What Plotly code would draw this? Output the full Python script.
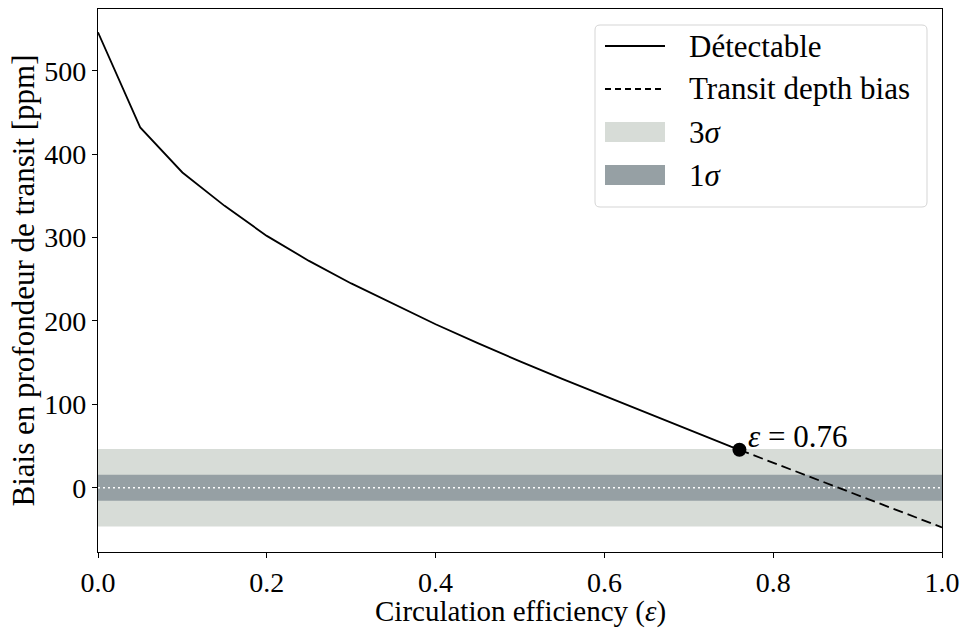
import plotly.graph_objects as go

# ---------------- Data ----------------
eps_solid = [0.0, 0.05, 0.10, 0.15, 0.20, 0.25, 0.30, 0.35, 0.40, 0.45, 0.50, 0.55, 0.60, 0.65, 0.70, 0.75, 0.76]
bias_solid = [546, 432, 378, 338, 302, 272, 245, 220, 196, 173.5, 151.5, 130.5, 110, 89.5, 69, 49.3, 45.5]
eps_dashed = [0.76, 0.80, 0.85, 0.90, 0.95, 1.00]
bias_dashed = [45.5, 30.0, 10.6, -8.8, -28.1, -47.5]
eps_detect = [0.76]
bias_detect = [45.5]
detect_label = "<i>ε</i> = 0.76"
sigma_1 = 15.5
sigma_3 = 46.5
x_range = [0.0, 1.0]
y_range = [-77, 574]
x_ticks = [0.0, 0.2, 0.4, 0.6, 0.8, 1.0]
y_ticks = [0, 100, 200, 300, 400, 500]
x_title = "Circulation efficiency (<i>ε</i>)"
y_title = "Biais en profondeur de transit [ppm]"
legend_labels = ["Détectable", "Transit depth bias", "3<i>σ</i>", "1<i>σ</i>"]

# ---------------- Styling ----------------
FONT = "Liberation Serif"
FS = 31
FT = 28
FX = 29
C3 = "#d7dcd7"
C1 = "#96a0a4"
W, H = 964, 630
ML, MR, MT, MB = 98, 22, 9, 78
PW, PH = W - ML - MR, H - MT - MB


def px(xp):
    return (xp - ML) / PW


def py(yp):
    return (H - MB - yp) / PH


fig = go.Figure()

# 3 sigma band
fig.add_trace(go.Scatter(
    x=[x_range[0], x_range[1], x_range[1], x_range[0], x_range[0]],
    y=[-sigma_3, -sigma_3, sigma_3, sigma_3, -sigma_3],
    fill="toself", fillcolor=C3, line=dict(width=0, color=C3),
    mode="lines", name=legend_labels[2], hoverinfo="skip"))
# 1 sigma band
fig.add_trace(go.Scatter(
    x=[x_range[0], x_range[1], x_range[1], x_range[0], x_range[0]],
    y=[-sigma_1, -sigma_1, sigma_1, sigma_1, -sigma_1],
    fill="toself", fillcolor=C1, line=dict(width=0, color=C1),
    mode="lines", name=legend_labels[3], hoverinfo="skip"))
# zero line (white dotted)
fig.add_trace(go.Scatter(
    x=x_range, y=[0, 0], mode="lines",
    line=dict(color="white", width=1.6, dash="2px,3px"),
    hoverinfo="skip"))
# dashed extension
fig.add_trace(go.Scatter(
    x=eps_dashed, y=bias_dashed, mode="lines",
    line=dict(color="black", width=1.8, dash="10px,5px"),
    name=legend_labels[1]))
# solid
fig.add_trace(go.Scatter(
    x=eps_solid, y=bias_solid, mode="lines",
    line=dict(color="black", width=1.8),
    name=legend_labels[0]))
# detection marker
fig.add_trace(go.Scatter(
    x=eps_detect, y=bias_detect, mode="markers",
    marker=dict(color="black", size=14)))

fig.add_annotation(
    x=eps_detect[0], y=bias_detect[0], xref="x", yref="y",
    text=detect_label, showarrow=False,
    xanchor="left", yanchor="middle", xshift=7, yshift=13,
    font=dict(family=FONT, size=FS, color="black"))

# x-axis title (placed just below the tick labels)
fig.add_annotation(
    x=0.5, y=py(629), xref="paper", yref="paper", text=x_title,
    showarrow=False, xanchor="center", yanchor="bottom", borderpad=0,
    font=dict(family=FONT, size=FX, color="black"))

# ---------------- Manual legend (matplotlib style) ----------------
bx0, bx1, by0, by1, r = 595, 927, 25, 207, 5
path = (f"M {px(bx0 + r)},{py(by0)} L {px(bx1 - r)},{py(by0)} "
        f"Q {px(bx1)},{py(by0)} {px(bx1)},{py(by0 + r)} "
        f"L {px(bx1)},{py(by1 - r)} Q {px(bx1)},{py(by1)} {px(bx1 - r)},{py(by1)} "
        f"L {px(bx0 + r)},{py(by1)} Q {px(bx0)},{py(by1)} {px(bx0)},{py(by1 - r)} "
        f"L {px(bx0)},{py(by0 + r)} Q {px(bx0)},{py(by0)} {px(bx0 + r)},{py(by0)} Z")
fig.add_shape(type="path", path=path, xref="paper", yref="paper",
              fillcolor="rgba(255,255,255,0.85)", line=dict(color="#d5d5d5", width=1))

hx0, hx1, tx = 605, 665, 687
rows = [46, 89, 132, 175]
fig.add_shape(type="line", xref="paper", yref="paper",
              x0=px(hx0), x1=px(hx1), y0=py(rows[0]), y1=py(rows[0]),
              line=dict(color="black", width=1.8))
fig.add_shape(type="line", xref="paper", yref="paper",
              x0=px(hx0), x1=px(hx1), y0=py(rows[1]), y1=py(rows[1]),
              line=dict(color="black", width=1.8, dash="6px,4px"))
for row, col in ((rows[2], C3), (rows[3], C1)):
    fig.add_shape(type="rect", xref="paper", yref="paper",
                  x0=px(hx0), x1=px(hx1), y0=py(row - 10), y1=py(row + 10),
                  fillcolor=col, line=dict(width=0))
for row, lab in zip(rows, legend_labels):
    fig.add_annotation(x=px(tx), y=py(row), xref="paper", yref="paper",
                       text=lab, showarrow=False, xanchor="left", yanchor="middle",
                       font=dict(family=FONT, size=FS, color="black"))

axis_common = dict(
    showgrid=False, zeroline=False, showline=True, linecolor="black",
    linewidth=1.1, mirror=True, ticks="outside", ticklen=5, tickwidth=1.1,
    tickcolor="black", tickfont=dict(family=FONT, size=FT, color="black"),
)
fig.update_xaxes(range=x_range, tickvals=x_ticks, tickformat=".1f", **axis_common)
fig.update_yaxes(range=y_range, tickvals=y_ticks,
                 title=dict(text=y_title, standoff=0,
                            font=dict(family=FONT, size=FS, color="black")),
                 **axis_common)

fig.update_layout(
    width=W, height=H,
    margin=dict(l=ML, r=MR, t=MT, b=MB, autoexpand=False),
    plot_bgcolor="white", paper_bgcolor="white",
    font=dict(family=FONT, size=FS, color="black"),
    showlegend=False,
)

fig.write_html("out.html", config={"displayModeBar": False},
               post_script="document.body.style.margin='0px';")
